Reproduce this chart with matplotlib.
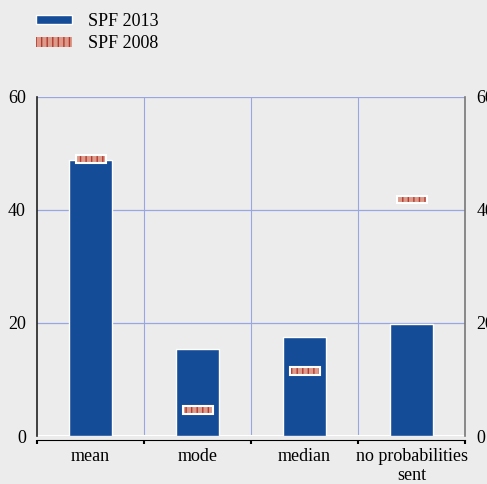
import numpy as np
import matplotlib.pyplot as plt
from matplotlib.patches import Patch

categories = ['mean', 'mode', 'median', 'no probabilities\nsent']
spf2013 = [48.8, 15.4, 17.5, 19.8]
spf2008 = [49.0, 4.6, 11.5, 41.8]

plt.rcParams['font.family'] = ['Liberation Serif', 'DejaVu Serif']
plt.rcParams['font.size'] = 13

bg = '#ececec'
blue = '#154c97'
salmon = '#dd9a88'
stripe = '#b23a32'
grid_c = '#9aa6e2'

fig = plt.figure(figsize=(4.87, 4.84), dpi=100, facecolor=bg)
ax = fig.add_axes([0.076, 0.099, 0.879, 0.701], facecolor=bg)

x = np.arange(len(categories))
ax.bar(x, spf2013, width=0.4, color=blue, edgecolor='white', linewidth=1, zorder=3)

# SPF 2008 shown as short striped markers
mh = 1.3
ax.bar(x, [mh] * 4, bottom=np.array(spf2008) - mh / 2, width=0.28,
       color=salmon, edgecolor=stripe, hatch='|||', linewidth=0, zorder=4)
ax.bar(x, [mh] * 4, bottom=np.array(spf2008) - mh / 2, width=0.28,
       fill=False, edgecolor='white', linewidth=1.5, zorder=5)

ax.set_xlim(-0.5, 3.5)
ax.set_ylim(0, 60)
ax.set_yticks([0, 20, 40, 60])
ax.tick_params(axis='y', length=0, pad=8, labelright=True, right=False)

for b in [0.5, 1.5, 2.5]:
    ax.axvline(b, color=grid_c, linewidth=0.8, zorder=1)
for h in [20, 40, 60]:
    ax.axhline(h, color=grid_c, linewidth=0.9, zorder=1)
ax.axhline(0, color='white', linewidth=1.5, zorder=2)

ax.set_xticks([-0.5, 0.5, 1.5, 2.5, 3.5])
ax.set_xticklabels([])
ax.set_xticks(x, minor=True)
ax.set_xticklabels(categories, minor=True)
ax.tick_params(axis='x', which='major', direction='out', length=3, width=1.5, color='black')
ax.tick_params(axis='x', which='minor', length=0, pad=6)

ax.spines['top'].set_visible(False)
ax.spines['bottom'].set_position(('outward', 2.5))
ax.spines['bottom'].set_color('black')
ax.spines['left'].set_color('#222222')
ax.spines['right'].set_color('#777777')
for s in ['left', 'right']:
    ax.spines[s].set_linewidth(1.2)

handles = [Patch(facecolor=blue, edgecolor='white'),
           Patch(facecolor=salmon, edgecolor=stripe, hatch='|||', linewidth=0)]
fig.legend(handles, ['SPF 2013', 'SPF 2008'], loc='upper left',
           bbox_to_anchor=(0.04, 1.007), frameon=False, handlelength=2.0,
           handleheight=0.45, handletextpad=0.9, labelspacing=0.3)

plt.savefig('out.png', dpi=100, facecolor=bg)
